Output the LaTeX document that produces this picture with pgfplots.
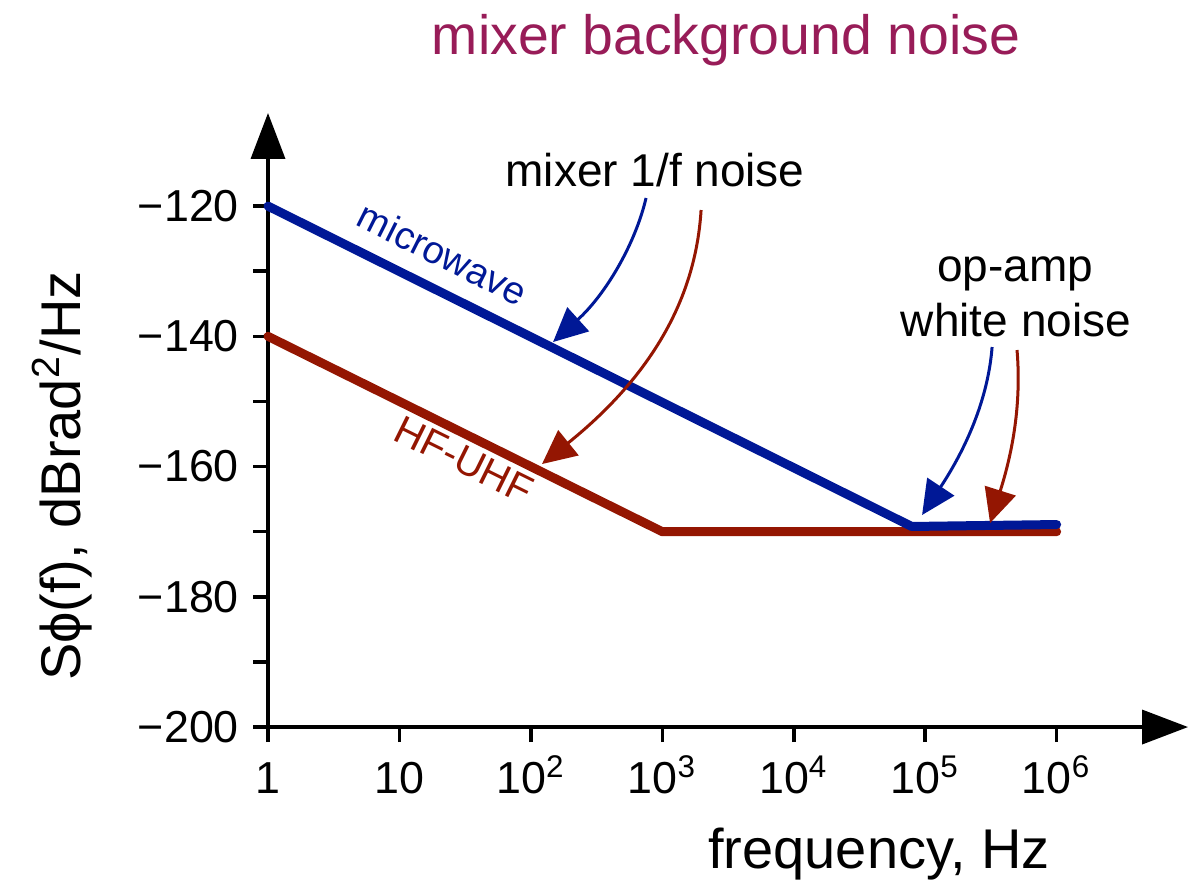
\documentclass[border=0pt]{standalone}
\usepackage{fontspec}
\setmainfont{Liberation Sans}
\usepackage{pgfplots}
\pgfplotsset{compat=1.18}
\usetikzlibrary{arrows.meta}
\definecolor{mwblue}{RGB}{0,24,150}
\definecolor{hfred}{RGB}{148,22,2}
\definecolor{titlecol}{RGB}{152,28,88}

\begin{document}
\begin{tikzpicture}
\begin{axis}[
  scale only axis, width=230pt, height=153.5pt,
  xmode=log, xmin=1, xmax=1e7,
  ymin=-200, ymax=-105.7,
  axis lines=left,
  axis line style={line width=0.9pt, -{Triangle[length=11.5pt,width=8.5pt]}},
  tick align=outside, major tick length=3.75pt,
  major tick style={line width=0.9pt, black},
  xminorticks=false, yminorticks=false,
  xtick={1,10,100,1000,10000,100000,1000000},
  xticklabels={1,10,10\textsuperscript{2},10\textsuperscript{3},10\textsuperscript{4},10\textsuperscript{5},10\textsuperscript{6}},
  ytick={-200,-190,...,-120},
  yticklabels={−200,,−180,,−160,,−140,,−120},
  tick label style={font=\fontsize{11.2}{13}\selectfont},
  xticklabel style={text height=10pt, text depth=0pt, inner sep=0pt, anchor=north, yshift=-2.75pt},
  clip=false,
]
% data
\addplot[hfred, line width=2.25pt, line cap=round, line join=round] coordinates {
  (1,-140) (1000,-170) (1000000,-170)};
\addplot[mwblue, line width=2.25pt, line cap=round, line join=round] coordinates {
  (1,-120) (79000,-169.2) (1000000,-168.9)};

% texts
\node[titlecol, font=\fontsize{13.85}{16}\selectfont, anchor=base] at (rel axis cs:0.4978,1.0945) {mixer background noise};
\node[font=\fontsize{11.5}{14}\selectfont, anchor=base] at (rel axis cs:0.4207,0.8795) {mixer 1/f noise};
\node[font=\fontsize{11.5}{14}\selectfont, anchor=base] at (rel axis cs:0.812,0.7248) {op-amp};
\node[font=\fontsize{11.5}{14}\selectfont, anchor=base] at (rel axis cs:0.813,0.6368) {white noise};
\node[mwblue, font=\fontsize{9.6}{11}\selectfont, rotate=-26.6, anchor=base] at (rel axis cs:0.1837,0.7508) {microwave};
\node[hfred, font=\fontsize{10}{12}\selectfont, rotate=-26.3, anchor=base] at (rel axis cs:0.2065,0.4153) {HF-UHF};
\node[font=\fontsize{14}{16}\selectfont, anchor=base] at (rel axis cs:0.6641,-0.2296) {frequency, Hz};
\node[font=\fontsize{14}{16}\selectfont, rotate=90, anchor=base] at (rel axis cs:-0.2043,0.4088) {Sϕ(f), dBrad\textsuperscript{2}/Hz};

% annotation arrows
\draw[mwblue, line width=0.75pt, -{Triangle[length=8.5pt,width=8pt]}]
  (rel axis cs:0.4109,0.8616) .. controls (rel axis cs:0.3989,0.7850) and (rel axis cs:0.3663,0.7036) .. (rel axis cs:0.3098,0.6270);
\draw[hfred, line width=0.75pt, -{Triangle[length=8.5pt,width=8pt]}]
  (rel axis cs:0.4707,0.8420) .. controls (rel axis cs:0.4641,0.6792) and (rel axis cs:0.4043,0.5570) .. (rel axis cs:0.2978,0.4283);
\draw[mwblue, line width=0.75pt, -{Triangle[length=8.5pt,width=8pt]}]
  (rel axis cs:0.7870,0.6189) .. controls (rel axis cs:0.7826,0.5326) and (rel axis cs:0.7576,0.4511) .. (rel axis cs:0.7109,0.3453);
\draw[hfred, line width=0.75pt, -{Triangle[length=8.5pt,width=8pt]}]
  (rel axis cs:0.8141,0.6140) .. controls (rel axis cs:0.8196,0.5163) and (rel axis cs:0.8065,0.4349) .. (rel axis cs:0.7848,0.3322);

\coordinate (bbsw) at (rel axis cs:-0.2913,-0.2590);
\coordinate (bbne) at (rel axis cs:1.0043,1.1840);
\end{axis}
\pgfresetboundingbox
\path[use as bounding box] (bbsw) rectangle (bbne);
\end{tikzpicture}
\end{document}
